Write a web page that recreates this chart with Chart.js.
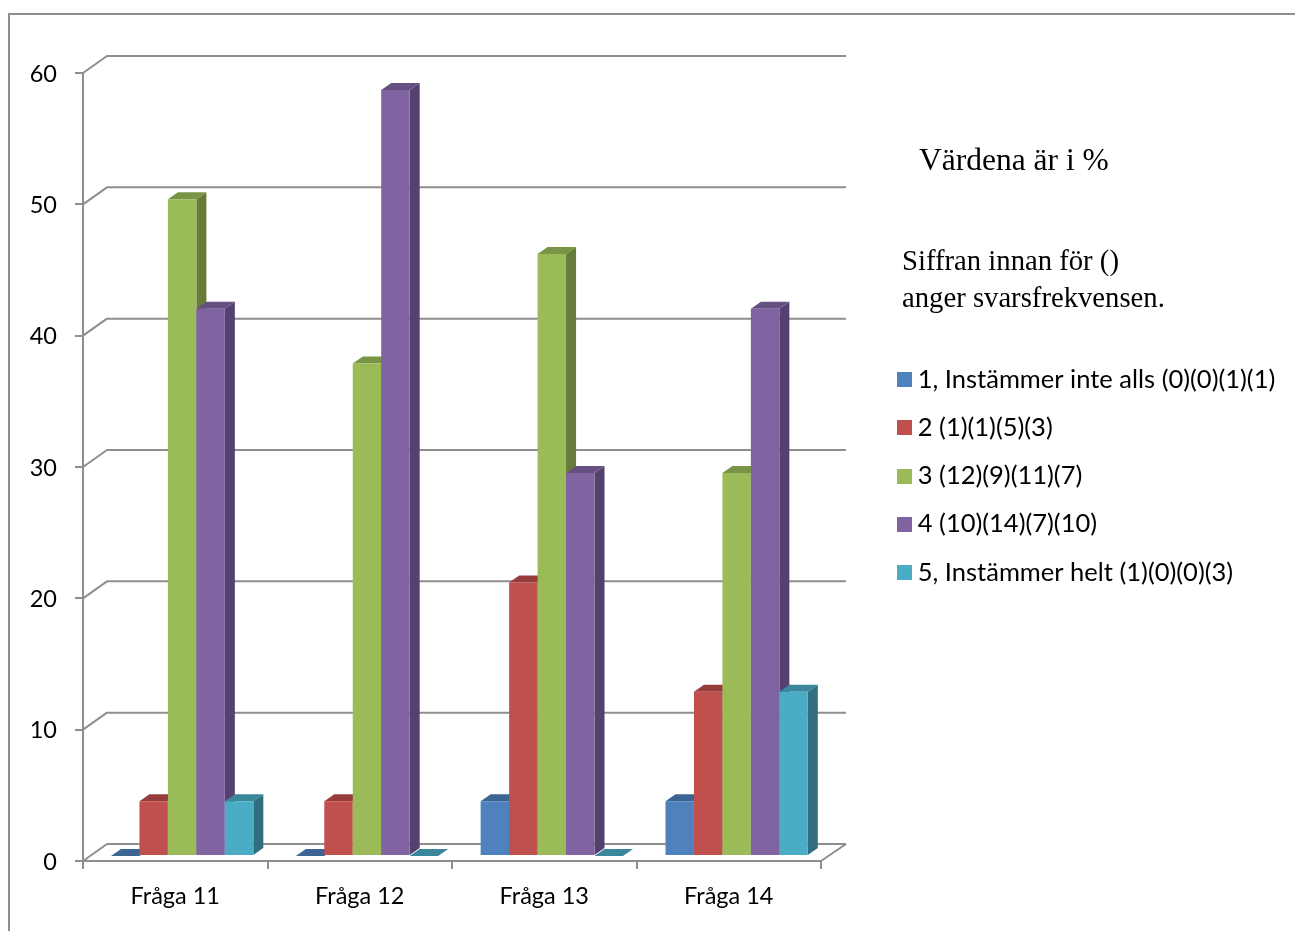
<!DOCTYPE html>
<html><head><meta charset="utf-8">
<style>
html,body{margin:0;padding:0;background:#fff;overflow:hidden}
#wrap{position:relative;width:1295px;height:931px}
canvas{position:absolute;left:0;top:0}
.note{position:absolute;font-family:"Liberation Serif",serif;color:#000;white-space:nowrap}
</style>
<script src="https://cdn.jsdelivr.net/npm/chart.js@4"></script>
</head><body>
<div id="wrap">
<canvas id="c" width="1295" height="931"></canvas>
<div class="note" style="left:919px;top:141px;font-size:31.5px;line-height:38px">Värdena är i %</div>
<div class="note" style="left:902px;top:242px;font-size:28.7px;line-height:37px">Siffran innan för ()<br>anger svarsfrekvensen.</div>
</div>
<script>
const categories = ["Fråga 11","Fråga 12","Fråga 13","Fråga 14"];
const seriesNames = ["1, Instämmer inte alls (0)(0)(1)(1)","2 (1)(1)(5)(3)","3 (12)(9)(11)(7)","4 (10)(14)(7)(10)","5, Instämmer helt (1)(0)(0)(3)"];
const s1 = [0,0,4.17,4.17];
const s2 = [4.17,4.17,20.83,12.5];
const s3 = [50,37.5,45.83,29.17];
const s4 = [41.67,58.33,29.17,41.67];
const s5 = [4.17,0,0,12.5];
const fronts = ["#4F81BD","#C0504D","#9BBB59","#8064A2","#4BACC6"];
const tops   = ["#3C6594","#963C3A","#7A9445","#655081","#3A879C"];
const sides  = ["#2F4F75","#772F2D","#677C3A","#54416F","#316F80"];
const grey = "#8E8E8E";
const FONT = "Lato";
const TICK = 23.5;
const LEG = 25.5;

function swatch(color){
  const k=document.createElement('canvas');k.width=15;k.height=15;
  const g=k.getContext('2d');g.fillStyle=color;g.fillRect(0,0,15,15);return k;
}
const swatches = fronts.map(swatch);

const scene = {
  id:'scene',
  beforeDraw(chart){
    const x=chart.ctx;x.save();x.strokeStyle=grey;x.lineWidth=2;
    x.beginPath();x.moveTo(9,931);x.lineTo(9,14);x.lineTo(1295,14);x.stroke();x.restore();
  },
  afterLayout(chart){
    const l=chart.legend;
    const w=l.width,h=l.height;
    l.left=881.25;l.right=881.25+w;l.top=344;l.bottom=344+h;
  },
  beforeDatasetsDraw(chart){
    const x=chart.ctx,a=chart.chartArea,ys=chart.scales.y;
    x.save();x.strokeStyle=grey;x.lineWidth=2;x.lineJoin='round';
    x.beginPath();
    ys.ticks.forEach((t,i)=>{
      const y=ys.getPixelForTick(i);
      x.moveTo(a.left,y);x.lineTo(a.left+24,y-17);x.lineTo(a.right+25,y-17);
    });
    x.moveTo(a.right,a.bottom);x.lineTo(a.right+25,a.bottom-17);
    x.stroke();x.restore();
    x.save();x.translate(6.58,-5);x.scale(1.0018,1);
    chart.getSortedVisibleDatasetMetas().slice().sort((m,n)=>m.index-n.index).forEach(meta=>{
      const i=meta.index;
      meta.data.forEach(b=>{
        const p=b.getProps(['x','y','base','width'],true);
        const L=p.x-p.width/2,R=p.x+p.width/2;
        x.fillStyle=sides[i];
        x.beginPath();x.moveTo(R,p.y);x.lineTo(R+10,p.y-7);x.lineTo(R+10,p.base-7);x.lineTo(R,p.base);x.closePath();x.fill();
        x.fillStyle=tops[i];
        x.beginPath();x.moveTo(L,p.y);x.lineTo(L+10,p.y-7);x.lineTo(R+10,p.y-7);x.lineTo(R,p.y);x.closePath();x.fill();
      });
      meta.controller.draw();
    });
    x.restore();
    return false;
  }
};

new Chart(document.getElementById('c'),{
  type:'bar',
  data:{labels:categories,datasets:[s1,s2,s3,s4,s5].map((d,i)=>({label:seriesNames[i],data:d,backgroundColor:fronts[i],borderWidth:0}))},
  plugins:[scene],
  options:{
    responsive:false,animation:false,
    categoryPercentage:0.77,barPercentage:1,
    layout:{padding:{left:0,top:73,right:474,bottom:0}},
    plugins:{
      title:{display:false},tooltip:{enabled:false},
      legend:{position:'chartArea',align:'start',
        labels:{usePointStyle:true,pointStyleWidth:1,padding:22.75,color:'#000',font:{family:FONT,size:LEG},
          generateLabels(chart){
            const items=Chart.defaults.plugins.legend.labels.generateLabels(chart);
            items.forEach((it,i)=>{it.pointStyle=swatches[i];});
            return items;
          }}}
    },
    scales:{
      x:{afterFit(s){s.height=70;},
        grid:{drawOnChartArea:false,color:grey,lineWidth:2,tickLength:8},
        border:{color:grey,width:2},
        ticks:{color:'#000',padding:13,font:{family:FONT,size:TICK},maxRotation:0}},
      y:{min:0,max:60,afterFit(s){s.width=83;},
        grid:{drawOnChartArea:false,color:grey,lineWidth:2,tickLength:8},
        border:{color:grey,width:2},
        ticks:{stepSize:10,color:'#000',padding:18,labelOffset:1,font:{family:FONT,size:TICK}}}
    }
  }
});
</script>
</body></html>
